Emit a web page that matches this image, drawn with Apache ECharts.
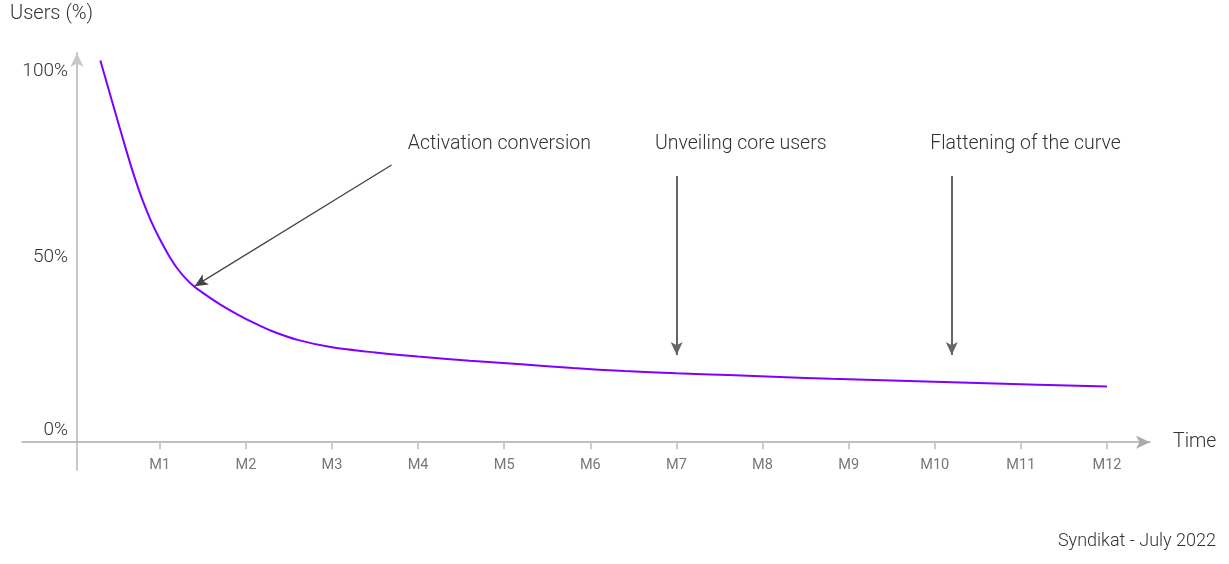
<!DOCTYPE html>
<html>
<head>
<meta charset="utf-8">
<script src="https://cdn.jsdelivr.net/npm/echarts@6/dist/echarts.min.js"></script>
<style>
  html, body { margin: 0; padding: 0; background: #fff; }
  #chart1 { width: 1229px; height: 564px; }
</style>
</head>
<body>
<div id="chart1"></div>
<script>
// retention curve
const curveX = [0.31, 0.4, 0.5, 0.6, 0.7, 0.8, 0.9, 1.0, 1.1, 1.2, 1.3, 1.4, 1.5, 1.7, 1.9, 2.1, 2.3, 2.6, 3.0, 3.5, 4.0, 4.6, 5.2, 5.8, 6.4, 7.0, 7.6, 8.2, 8.8, 9.4, 10.0, 10.6, 11.2, 12.0]
const curveY = [103, 95.7, 87.6, 79.6, 72, 65.3, 59.6, 54.8, 50.6, 47, 44.2, 42, 40.3, 37.2, 34.5, 32.1, 30.0, 27.6, 25.6, 24.2, 23.1, 22.0, 21.0, 20.0, 19.2, 18.6, 18.1, 17.6, 17.1, 16.7, 16.3, 15.9, 15.5, 15.0]

const monthTicks = [1, 2, 3, 4, 5, 6, 7, 8, 9, 10, 11, 12]
const yTicks = [0, 50, 100]

// annotation texts: [label, x, y]
const noteTexts = [
    ['Activation conversion', 3.881, 80.4],
    ['Unveiling core users', 6.751, 80.4],
    ['Flattening of the curve', 9.947, 80.4]
]
// annotation arrows: [x0, y0, x1, y1] (arrow head at x1,y1)
const noteArrows = [
    [3.692, 74.8, 1.406, 42.1],
    [7.003, 71.8, 7.003, 23.5],
    [10.198, 71.8, 10.198, 23.5]
]

const font = 'Roboto, "Noto Sans", sans-serif'

let chart1 = echarts.init(document.getElementById('chart1'))

let sData = curveX.map((x, i) => [x, curveY[i]])

let option = {
    animation: false,
    textStyle: { fontFamily: font },
    title: [
        {
            text: 'Users (%)',
            left: 10,
            top: 4,
            padding: 0,
            textStyle: { fontSize: 20, fontWeight: 300, color: '#333', fontFamily: font }
        },
        {
            text: 'Syndikat - July 2022',
            right: 13,
            bottom: 14,
            padding: 0,
            textStyle: { fontSize: 18, fontWeight: 300, color: '#333', fontFamily: font }
        }
    ],
    grid: {
        left: 22,
        right: 79,
        top: 53,
        bottom: 94,
        containLabel: false
    },
    xAxis: {
        type: 'value',
        min: -0.6,
        max: 12.5,
        name: 'Time',
        nameLocation: 'end',
        nameGap: 23,
        nameTextStyle: { fontSize: 19.5, fontWeight: 300, color: '#333', fontFamily: font },
        axisLine: {
            onZero: true,
            symbol: ['none', 'arrow'],
            symbolSize: [10, 14],
            lineStyle: { color: '#aaa', width: 1.5 }
        },
        axisTick: {
            show: true,
            customValues: monthTicks,
            length: 7,
            lineStyle: { color: '#ccc', width: 2 }
        },
        axisLabel: {
            customValues: monthTicks,
            formatter: (v) => 'M' + v,
            fontSize: 14.5,
            color: '#777',
            margin: -12
        },
        splitLine: { show: false }
    },
    yAxis: {
        type: 'value',
        min: -7.5,
        max: 105,
        offset: -55,
        axisLine: {
            onZero: false,
            symbol: ['none', 'arrow'],
            symbolSize: [10, 14],
            lineStyle: { color: '#c8c8c8', width: 2 }
        },
        axisTick: { show: false },
        axisLabel: {
            customValues: yTicks,
            formatter: (v) => v === 0 ? '{z|0%}' : v + '%',
            fontSize: 19,
            fontWeight: 300,
            color: '#333',
            margin: 9,
            rich: {
                z: { fontSize: 19, fontWeight: 300, color: '#333', padding: [0, 0, 24, 0] }
            }
        },
        splitLine: { show: false }
    },
    series: [
        {
            name: 'Users',
            type: 'line',
            smooth: 0.3,
            symbol: 'none',
            lineStyle: { color: '#7f00ff', width: 2 },
            data: sData,
            markLine: {
                silent: true,
                symbol: ['none', 'arrow'],
                symbolSize: [9, 13],
                label: { show: false },
                lineStyle: { color: '#555', type: 'solid', width: 1.5 },
                data: noteArrows.map((a, i) => [
                    { coord: [a[0], a[1]], lineStyle: { width: i === 0 ? 1.3 : 2, color: i === 0 ? '#444' : '#666' } },
                    { coord: [a[2], a[3]] }
                ])
            },
            markPoint: {
                silent: true,
                symbol: 'circle',
                symbolSize: 0,
                label: {
                    show: true,
                    position: 'right',
                    distance: 0,
                    fontSize: 19.5,
                    fontWeight: 300,
                    color: '#333',
                    formatter: (p) => p.name
                },
                data: noteTexts.map((t) => ({ name: t[0], coord: [t[1], t[2]] }))
            }
        }
    ]
}
chart1.setOption(option)
</script>
</body>
</html>
